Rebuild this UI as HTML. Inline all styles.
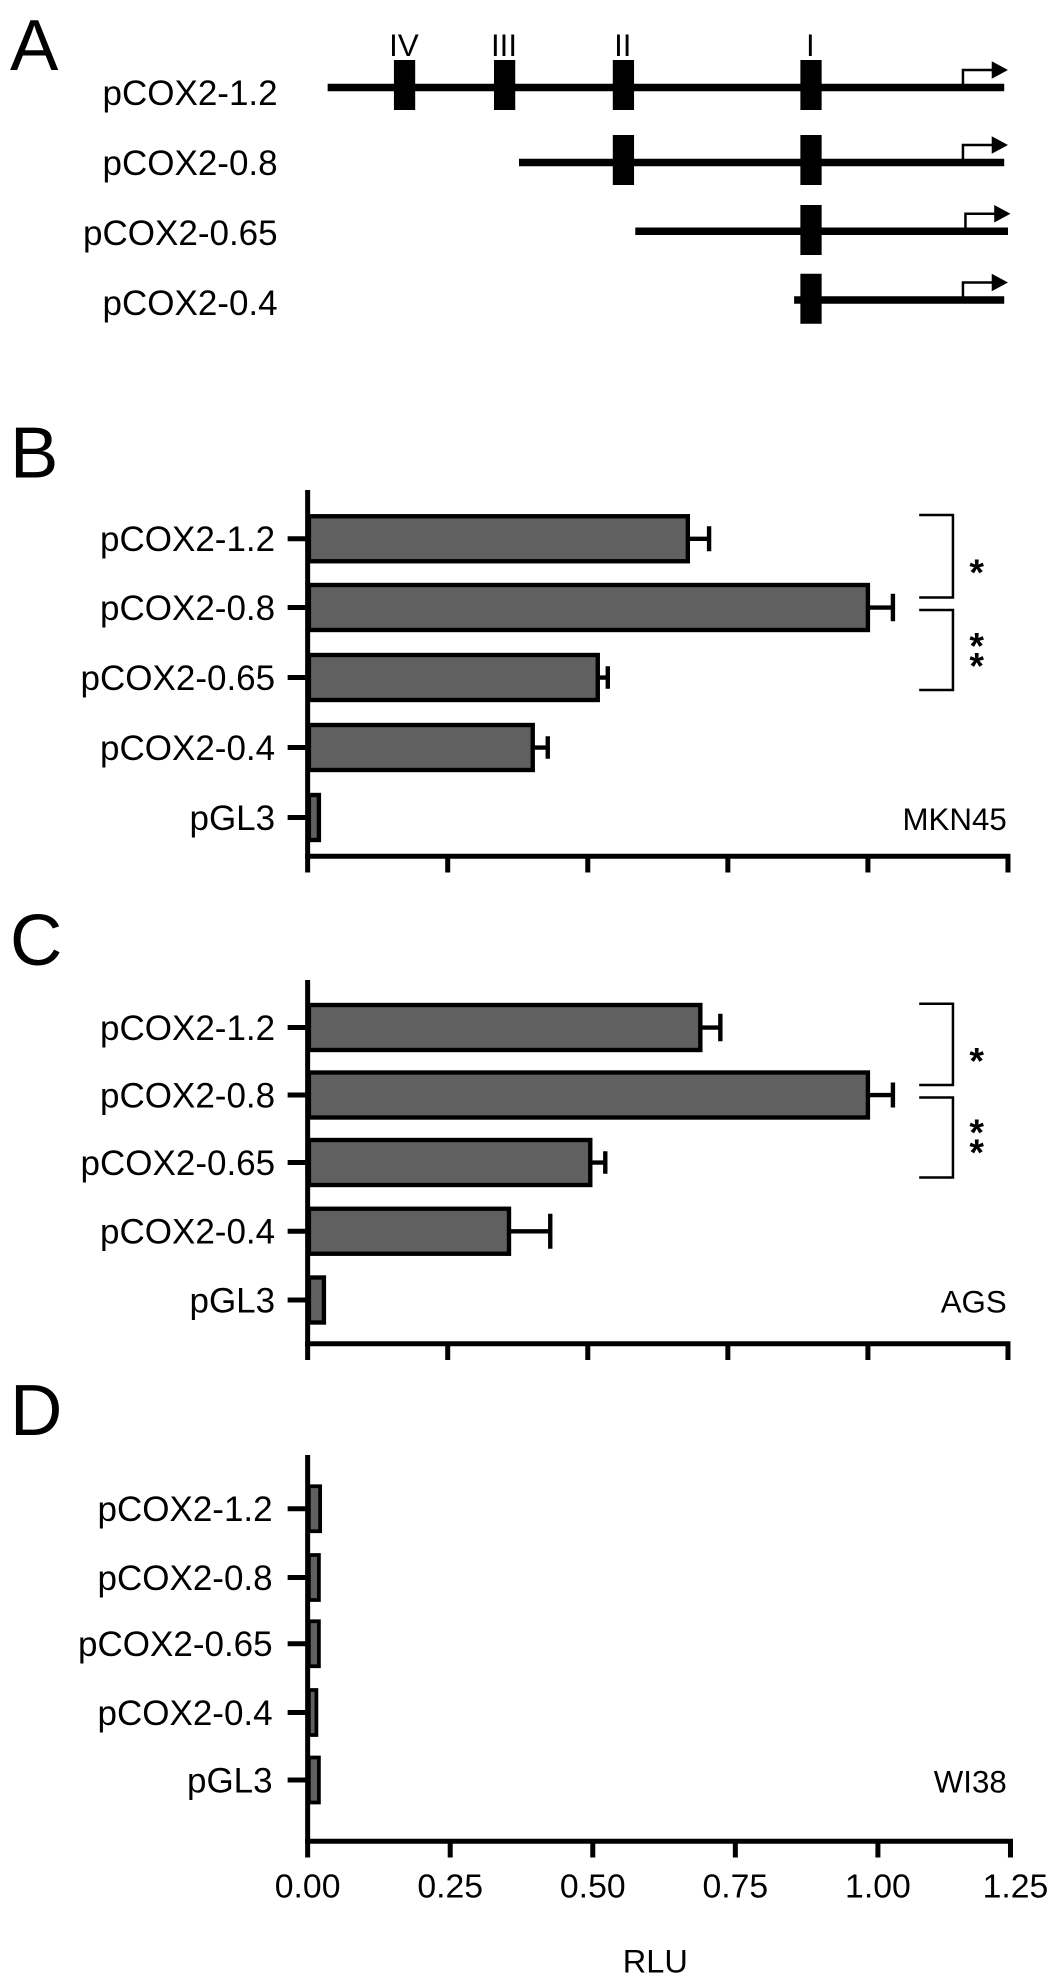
<!DOCTYPE html>
<html><head><meta charset="utf-8"><style>html,body{margin:0;padding:0;background:#fff}svg{display:block}</style></head>
<body>
<svg width="1063" height="1976" viewBox="0 0 850 1580.8" preserveAspectRatio="none" xmlns="http://www.w3.org/2000/svg" font-family="Liberation Sans, sans-serif">
<rect width="850" height="1581" fill="#fff"/>
<!-- Panel A -->
<text x="8" y="56" font-size="58">A</text>
<g font-size="28" text-anchor="end">
<text x="222" y="84">pCOX2-1.2</text>
<text x="222" y="140">pCOX2-0.8</text>
<text x="222" y="196">pCOX2-0.65</text>
<text x="222" y="252">pCOX2-0.4</text>
</g>
<g font-size="25" text-anchor="middle">
<text x="323" y="45">IV</text><text x="403" y="45">III</text><text x="498" y="45">II</text><text x="648" y="45">I</text>
</g>
<g fill="#000">
<rect x="262" y="67" width="541" height="6"/>
<rect x="415" y="127" width="388" height="6"/>
<rect x="508" y="182" width="298" height="6"/>
<rect x="635" y="237" width="168" height="6"/>
<rect x="315" y="48" width="17" height="40"/><rect x="395" y="48" width="17" height="40"/>
<rect x="490" y="48" width="17" height="40"/><rect x="640" y="48" width="17" height="40"/>
<rect x="490" y="108" width="17" height="40"/><rect x="640" y="108" width="17" height="40"/>
<rect x="640" y="164" width="17" height="40"/><rect x="640" y="219" width="17" height="40"/>
</g>
<g stroke="#000" stroke-width="2" fill="none">
<path d="M770 68V56H795"/><path d="M770 128V116H795"/><path d="M772 183V171H797"/><path d="M770 238V226H795"/>
</g>
<g fill="#000">
<path d="M793 49L806 56L793 63Z"/><path d="M793 109L806 116L793 123Z"/><path d="M795 164L808 171L795 178Z"/><path d="M793 219L806 226L793 233Z"/>
</g>

<!-- Panel B -->
<text x="8" y="382" font-size="58">B</text>
<g font-size="28" text-anchor="end">
<text x="220" y="441">pCOX2-1.2</text><text x="220" y="496">pCOX2-0.8</text><text x="220" y="552">pCOX2-0.65</text><text x="220" y="608">pCOX2-0.4</text><text x="220" y="664">pGL3</text>
</g>
<g stroke="#000" stroke-width="4">
<path d="M246 392V687"/><path d="M244 685H808"/>
<path d="M246 685v13M358 685v13M470 685v13M582 685v13M694 685v13M806 685v13"/>
<path d="M230 431h16M230 486h16M230 542h16M230 598h16M230 654h16"/>
</g>
<g fill="#606060" stroke="#000" stroke-width="3.5">
<rect x="247" y="413" width="303" height="36"/><rect x="247" y="468" width="447" height="36"/><rect x="247" y="524" width="231" height="36"/><rect x="247" y="580" width="179" height="36"/><rect x="247" y="636" width="8" height="36"/>
</g>
<g stroke="#000" stroke-width="3.5">
<path d="M550 431H567M567 421V441M694 486H714M714 475V497M478 542H486M486 533V551M426 598H438M438 589V607"/>
</g>
<g stroke="#000" stroke-width="2" fill="none"><path d="M735 412H762V478H735"/><path d="M735 488H762V552H735"/></g>
<g font-size="30" font-weight="bold" text-anchor="middle"><text x="781" y="468">*</text><text x="781" y="527">*</text><text x="781" y="543">*</text></g>
<text x="805" y="664" font-size="25" text-anchor="end">MKN45</text>

<!-- Panel C -->
<text x="8" y="772" font-size="58">C</text>
<g font-size="28" text-anchor="end">
<text x="220" y="832">pCOX2-1.2</text><text x="220" y="886">pCOX2-0.8</text><text x="220" y="940">pCOX2-0.65</text><text x="220" y="995">pCOX2-0.4</text><text x="220" y="1050">pGL3</text>
</g>
<g stroke="#000" stroke-width="4">
<path d="M246 784V1077"/><path d="M244 1075H808"/>
<path d="M246 1075v13M358 1075v13M470 1075v13M582 1075v13M694 1075v13M806 1075v13"/>
<path d="M230 822h16M230 876h16M230 930h16M230 985h16M230 1040h16"/>
</g>
<g fill="#606060" stroke="#000" stroke-width="3.5">
<rect x="247" y="804" width="313" height="36"/><rect x="247" y="858" width="447" height="36"/><rect x="247" y="912" width="225" height="36"/><rect x="247" y="967" width="160" height="36"/><rect x="247" y="1022" width="12" height="36"/>
</g>
<g stroke="#000" stroke-width="3.5">
<path d="M560 822H576M576 811V833M694 876H714M714 866V886M472 930H484M484 921V939M407 985H440M440 971V999"/>
</g>
<g stroke="#000" stroke-width="2" fill="none"><path d="M735 803H762V868H735"/><path d="M735 878H762V942H735"/></g>
<g font-size="30" font-weight="bold" text-anchor="middle"><text x="781" y="859">*</text><text x="781" y="916">*</text><text x="781" y="932">*</text></g>
<text x="805" y="1050" font-size="25" text-anchor="end">AGS</text>

<!-- Panel D -->
<text x="8" y="1148" font-size="58">D</text>
<g font-size="28" text-anchor="end">
<text x="218" y="1217">pCOX2-1.2</text><text x="218" y="1272">pCOX2-0.8</text><text x="218" y="1325">pCOX2-0.65</text><text x="218" y="1380">pCOX2-0.4</text><text x="218" y="1434">pGL3</text>
</g>
<g stroke="#000" stroke-width="4">
<path d="M246 1164V1475"/><path d="M244 1473H810"/>
<path d="M246 1473v13M360 1473v13M474 1473v13M588 1473v13M702 1473v13M808 1473v13"/>
<path d="M230 1207h16M230 1262h16M230 1315h16M230 1370h16M230 1424h16"/>
</g>
<g fill="#606060" stroke="#000" stroke-width="3">
<rect x="247" y="1189" width="9" height="36"/><rect x="247" y="1244" width="8" height="36"/><rect x="247" y="1297" width="8" height="36"/><rect x="247" y="1352" width="6" height="36"/><rect x="247" y="1406" width="8" height="36"/>
</g>
<text x="805" y="1434" font-size="25" text-anchor="end">WI38</text>
<g font-size="27" text-anchor="middle">
<text x="246" y="1518">0.00</text><text x="360" y="1518">0.25</text><text x="474" y="1518">0.50</text><text x="588" y="1518">0.75</text><text x="702" y="1518">1.00</text><text x="812" y="1518">1.25</text>
</g>
<text x="524" y="1578" font-size="26" text-anchor="middle">RLU</text>
</svg>
</body></html>
